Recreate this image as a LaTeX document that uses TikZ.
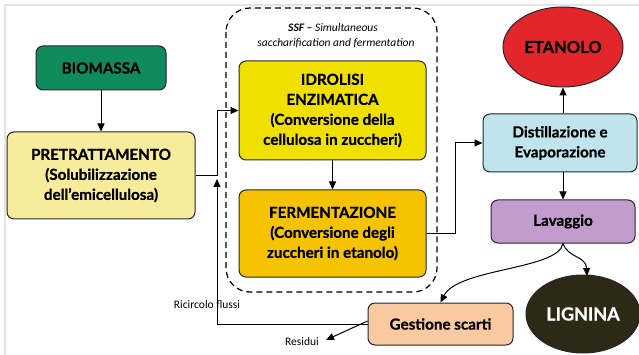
\documentclass[tikz,border=0pt]{standalone}
\usepackage{fontspec}
\setmainfont{Lato}[BoldFeatures={FakeBold=0.8}]
\newfontfamily\lblfont{Carlito}
\usetikzlibrary{arrows.meta,shapes.geometric}
\definecolor{cgreen}{HTML}{108B5C}
\definecolor{cpale}{HTML}{F6EC9C}
\definecolor{cyel}{HTML}{EFE000}
\definecolor{corange}{HTML}{F5C300}
\definecolor{cblue}{HTML}{BFE4EC}
\definecolor{cred}{HTML}{E2262B}
\definecolor{clav}{HTML}{C39CCE}
\definecolor{cpeach}{HTML}{F9C9A2}
\definecolor{cdark}{HTML}{2C2A17}
\definecolor{cframe}{HTML}{E4E4E4}
\begin{document}
\begin{tikzpicture}[x=1pt,y=-1pt,
  box/.style={draw=black!85, line width=1pt, rounded corners=7pt, align=center, inner sep=0pt,
    font=\fontsize{15.2}{20}\selectfont\bfseries},
  oval/.style={ellipse, draw=black!85, line width=1pt, inner sep=0pt, align=center,
    font=\fontsize{16.5}{19}\selectfont\bfseries},
  arr/.style={-{Triangle[length=8pt,width=7pt]}, line width=1pt},
  lbl/.style={font=\lblfont\fontsize{11.5}{13}\selectfont, inner sep=0pt}]
\useasboundingbox (0,0) rectangle (639,355);
\fill[white] (0,0) rectangle (639,355);
\draw[cframe, line width=2pt] (639,5) -- (5,5) -- (5,355);

% SSF dashed region
\draw[line width=1.2pt, dash pattern=on 6pt off 4pt, rounded corners=24pt] (226,8) rectangle (437,292);
\node[font=\lblfont\fontsize{11.5}{13}\selectfont, inner sep=0pt] (ssf1) at (333,28) {\textbf{\textit{SSF –}} \textit{Simultaneous}};
\node[font=\lblfont\fontsize{11.5}{13}\selectfont, inner sep=0pt] (ssf2) at (336,43) {\textit{saccharification and fermentation}};

% nodes
\node[box, fill=cgreen, minimum width=130pt, minimum height=44pt] (bio) at (101,68) {BIOMASSA};
\node[box, fill=cpale, minimum width=188pt, minimum height=87pt] (pre) at (101,175.5) {PRETRATTAMENTO\\(Solubilizzazione\\dell'emicellulosa)};
\node[box, fill=cyel, minimum width=187pt, minimum height=99pt] (idr) at (332.5,110.5) {IDROLISI\\ENZIMATICA\\(Conversione della\\cellulosa in zuccheri)};
\node[box, fill=corange, minimum width=187pt, minimum height=87pt] (fer) at (332.5,233.5) {FERMENTAZIONE\\(Conversione degli\\zuccheri in etanolo)};
\node[box, fill=cblue, minimum width=154pt, minimum height=58pt] (dis) at (560,143) {Distillazione e\\Evaporazione};
\node[oval, fill=cred, minimum width=120pt, minimum height=80pt] (eta) at (563,47) {ETANOLO};
\node[box, fill=clav, minimum width=144pt, minimum height=43pt] (lav) at (563,221.5) {Lavaggio};
\node[box, fill=cpeach, minimum width=145pt, minimum height=42pt] (ges) at (440.5,324) {Gestione scarti};
\node[oval, fill=cdark, text=white, minimum width=114pt, minimum height=78pt, font=\fontsize{18}{20}\selectfont\bfseries] (lig) at (583,314) {LIGNINA};

% labels
\node[lbl] (ric) at (207,305) {Ricircolo flussi};
\node[lbl] (res) at (302,342) {Residui};

% coordinates
\coordinate (j1) at (217,176);
\coordinate (j2) at (217,110.5);
\coordinate (j3) at (455,233.5);
\coordinate (j4) at (455,143);
\coordinate (r1) at (217,324);
\coordinate (r2) at (217,179);
\coordinate (resend) at (326,340);
\coordinate (ligtop) at (587,276);

% connectors
\draw[arr] (bio) -- (pre);
\draw[arr] (pre.east |- j1) -- (j1) -- (j2) -- (idr.west);
\draw[arr] (idr) -- (fer);
\draw[arr] (fer.east) -- (j3) -- (j4) -- (dis.west);
\draw[arr] (dis.north -| eta.south) -- (eta.south);
\draw[arr] (dis.south -| lav.north) -- (lav.north);
\draw[arr] (lav.south) .. controls (558,270) and (458,268) .. (ges.north);
\draw[arr] (lav.south) .. controls (568,258) and (586,256) .. (ligtop);
\draw[arr] (ges.west) -- (r1) -- (r2);
\draw[arr] ([yshift=3pt]ges.west) -- (resend);
\end{tikzpicture}
\end{document}
